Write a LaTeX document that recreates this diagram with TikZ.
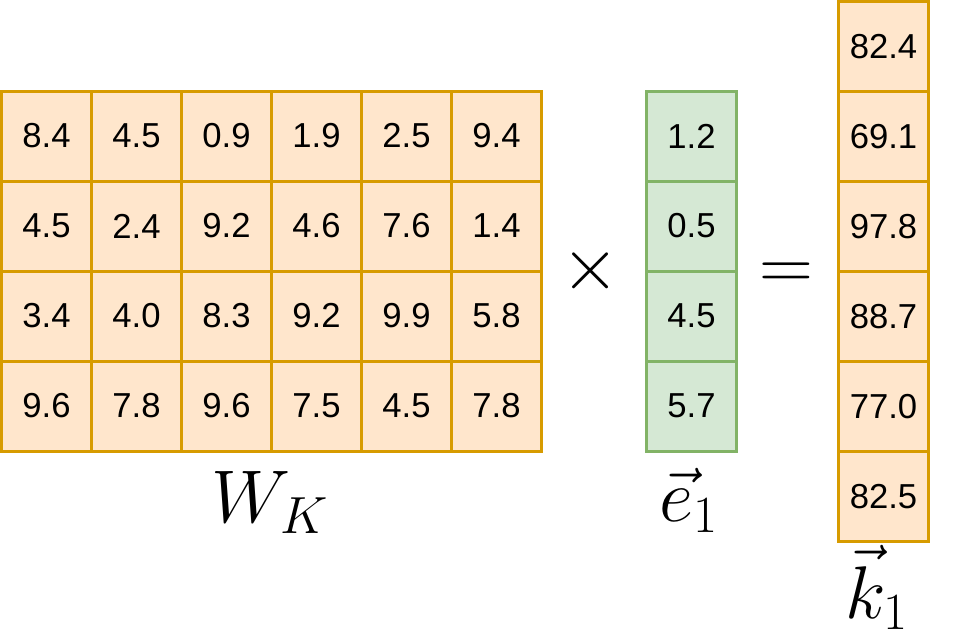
\RequirePackage{fix-cm}
\documentclass[tikz,border=0pt]{standalone}
\usepackage{fontspec}
\newfontfamily\cellfont{Liberation Sans}
\definecolor{ofill}{HTML}{FFE6CC}
\definecolor{odraw}{HTML}{D79B00}
\definecolor{gfill}{HTML}{D5E8D4}
\definecolor{gdraw}{HTML}{82B366}
\tikzset{
  cell/.style={draw=odraw, fill=ofill, line width=2.25pt, minimum width=67.5pt, minimum height=67.5pt, inner sep=0pt, font=\cellfont\fontsize{26}{30}\selectfont},
  gcell/.style={cell, draw=gdraw, fill=gfill},
  bigmath/.style={inner sep=0pt, anchor=base, font=\fontsize{56}{60}\selectfont}
}
\begin{document}
\begin{tikzpicture}[x=0.75pt,y=-0.75pt]
\useasboundingbox (0,0) rectangle (975,636);
% matrix W_K
\foreach \row [count=\r from 0] in {{8.4,4.5,0.9,1.9,2.5,9.4},{4.5,2.4,9.2,4.6,7.6,1.4},{3.4,4.0,8.3,9.2,9.9,5.8},{9.6,7.8,9.6,7.5,4.5,7.8}}{
  \foreach \v [count=\c from 0] in \row {
    \node[cell] (m-\r-\c) at ({46.5+90*\c},{136+90*\r}) {\v};
  }
}
% vector e1
\foreach \v [count=\r from 0] in {1.2,0.5,4.5,5.7}{
  \node[gcell] (e-\r) at (691.5,{136+90*\r}) {\v};
}
% vector k1
\foreach \v [count=\r from 0] in {82.4,69.1,97.8,88.7,77.0,82.5}{
  \node[cell] (k-\r) at (883.5,{46.5+90*\r}) {\v};
}
% operators
\node[bigmath] (times) at (591,289) {$\times$};
\node[bigmath] (eq) at (786,289) {$=$};
% labels
\node[bigmath] (wk) at (270,522) {$W_K$};
\node[bigmath] (el) at (689,521) {$\vec{e}_1$};
\node[bigmath] (kl) at (877,618) {$\vec{k}_1$};
\end{tikzpicture}
\end{document}
